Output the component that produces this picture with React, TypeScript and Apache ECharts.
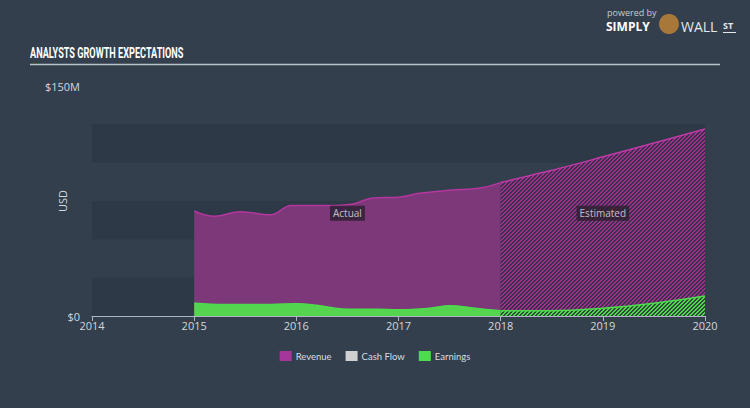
import React, { useEffect, useRef } from "react";
import * as echarts from "echarts";

// ---- data (USD millions) ----
const revenueActual: [number, number][] = [
  [2015.0, 68.5], [2015.2, 65.0], [2015.45, 68.0], [2015.75, 66.0], [2015.95, 72.0],
  [2016.3, 72.0], [2016.55, 73.0], [2016.75, 77.0], [2017.0, 77.5], [2017.2, 80.0],
  [2017.5, 82.0], [2017.8, 83.5], [2018.0, 87.0],
];
const revenueEstimated: [number, number][] = [
  [2018.0, 87.0], [2018.5, 95.0], [2019.0, 103.8], [2019.5, 112.8], [2020.0, 122.0],
];
const earningsActual: [number, number][] = [
  [2015.0, 8.3], [2015.3, 7.5], [2015.75, 7.5], [2016.0, 8.0], [2016.2, 7.0],
  [2016.45, 4.6], [2016.8, 4.4], [2017.0, 4.0], [2017.3, 5.0], [2017.5, 6.7],
  [2017.75, 5.0], [2018.0, 3.4],
];
const earningsEstimated: [number, number][] = [
  [2018.0, 3.4], [2018.5, 3.4], [2019.0, 5.0], [2019.5, 8.3], [2020.0, 13.0],
];
const cashFlow: [number, number][] = [];
const periodLabels = [
  { name: "Actual", value: [2016.5, 67] },
  { name: "Estimated", value: [2019.0, 67] },
];
const legendNames = ["Revenue", "Cash Flow", "Earnings"];

function makeHatch(a: string, b: string) {
  const c = document.createElement("canvas");
  c.width = 4;
  c.height = 4;
  const ctx = c.getContext("2d")!;
  for (let x = 0; x < 4; x++) {
    for (let y = 0; y < 4; y++) {
      ctx.fillStyle = (x + y) % 4 < 2 ? a : b;
      ctx.fillRect(x, y, 1, 1);
    }
  }
  return c;
}

export default function App() {
  const ref = useRef<HTMLDivElement>(null);
  useEffect(() => {
    const chart = echarts.init(ref.current!, null, { renderer: "svg" });
    const revHatch = makeHatch("#9c3390", "#3b2d46");
    const earnHatch = makeHatch("#4fd64a", "#2e4a3c");
    const REV = "#a5379a";
    const REV_FILL = "#7c3878";
    const EARN = "#4ddc4b";
    const EARN_FILL = "#55d450";
    const axisTxt = "#d2d7dd";
    chart.setOption({
      animation: false,
      backgroundColor: "#333f4c",
      grid: { left: 92, right: 45, top: 86, bottom: 92, outerBoundsMode: "none" },
      legend: {
        data: legendNames,
        bottom: 42,
        left: "center",
        itemWidth: 12,
        itemHeight: 10,
        itemGap: 14,
        icon: "rect",
        textStyle: { color: "#d8dde3", fontSize: 9.5, fontFamily: "Lato", padding: [0, 0, 0, -1] },
      },
      xAxis: {
        type: "value",
        min: 2014,
        max: 2020,
        interval: 1,
        axisLine: { show: true, lineStyle: { color: "#aeb6bf", width: 1 } },
        axisTick: { show: true, length: 5, lineStyle: { color: "#aeb6bf" } },
        axisLabel: { color: axisTxt, fontSize: 11, fontFamily: "Open Sans", margin: 4, formatter: (v: number) => String(v) },
        splitLine: { show: false },
      },
      yAxis: {
        type: "value",
        min: 0,
        max: 150,
        interval: 25,
        name: "USD",
        nameLocation: "middle",
        nameGap: 24,
        nameMoveOverlap: false,
        nameTextStyle: { color: axisTxt, fontSize: 11, fontFamily: "Open Sans" },
        axisLine: { show: false },
        axisTick: { show: false },
        axisLabel: {
          color: axisTxt,
          fontSize: 11,
          fontFamily: "Open Sans",
          margin: 12,
          formatter: (v: number) => (v === 0 ? "$0" : v === 150 ? "$150M" : ""),
        },
        splitLine: { show: false },
        splitArea: { show: true, areaStyle: { color: ["#2d3946", "rgba(0,0,0,0)"] } },
      },
      series: [
        {
          name: "Revenue",
          type: "line",
          data: revenueActual,
          smooth: 0.4,
          symbol: "none",
          itemStyle: { color: REV },
          lineStyle: { color: "#b4369f", width: 1.5 },
          areaStyle: { color: REV_FILL, opacity: 1 },
          z: 2,
        },
        {
          name: "Revenue",
          type: "line",
          data: revenueEstimated,
          smooth: 0.3,
          symbol: "none",
          itemStyle: { color: REV },
          lineStyle: { color: "#c03aa8", width: 1.5 },
          areaStyle: { color: { image: revHatch, repeat: "repeat" }, opacity: 1 },
          z: 2,
        },
        {
          name: "Cash Flow",
          type: "line",
          data: cashFlow,
          symbol: "none",
          itemStyle: { color: "#d0d0d0" },
        },
        {
          name: "Earnings",
          type: "line",
          data: earningsActual,
          smooth: 0.4,
          symbol: "none",
          itemStyle: { color: EARN },
          lineStyle: { color: EARN, width: 1.5 },
          areaStyle: { color: EARN_FILL, opacity: 1 },
          z: 3,
        },
        {
          name: "Earnings",
          type: "line",
          data: earningsEstimated,
          smooth: 0.4,
          symbol: "none",
          itemStyle: { color: EARN },
          lineStyle: { color: EARN, width: 1.5 },
          areaStyle: { color: { image: earnHatch, repeat: "repeat" }, opacity: 1 },
          z: 3,
        },
        {
          name: "labels",
          type: "scatter",
          data: periodLabels,
          symbolSize: 0,
          z: 5,
          label: {
            show: true,
            position: "inside",
            formatter: (p: any) => p.name,
            color: "#e6e6e6",
            fontSize: 10,
            fontFamily: "Open Sans",
            backgroundColor: "#2a1f2e",
            padding: [3, 3, 2, 3],
          },
        },
      ],
      graphic: [
        {
          type: "text",
          x: 30,
          y: 45,
          scaleX: 0.61,
          style: {
            text: "ANALYSTS GROWTH EXPECTATIONS",
            fill: "#ffffff",
            font: "bold 15px Roboto",
          },
        },
        {
          type: "line",
          shape: { x1: 30, y1: 64.5, x2: 720, y2: 64.5 },
          style: { stroke: "#b9c1c9", lineWidth: 1.5 },
        },
        {
          type: "text",
          x: 607,
          y: 8,
          style: { text: "powered by", fill: "#c4cbd2", font: "9px 'Open Sans'" },
        },
        {
          type: "text",
          x: 606,
          y: 20,
          style: { text: "SIMPLY", fill: "#ffffff", font: "bold 12px 'Open Sans'" },
        },
        {
          type: "circle",
          shape: { cx: 669, cy: 24, r: 10 },
          style: { fill: "#a8773a" },
        },
        {
          type: "text",
          x: 681,
          y: 19,
          style: { text: "WALL", fill: "#e4e8ec", font: "14px 'Open Sans'" },
        },
        {
          type: "text",
          x: 723,
          y: 21,
          style: { text: "ST", fill: "#e4e8ec", font: "bold 9px 'Open Sans'" },
        },
        {
          type: "line",
          shape: { x1: 723, y1: 32.5, x2: 736, y2: 32.5 },
          style: { stroke: "#e4e8ec", lineWidth: 1 },
        },
      ],
    });
    return () => chart.dispose();
  }, []);
  return <div ref={ref} style={{ position: "fixed", left: 0, top: 0, width: 750, height: 408 }} />;
}
